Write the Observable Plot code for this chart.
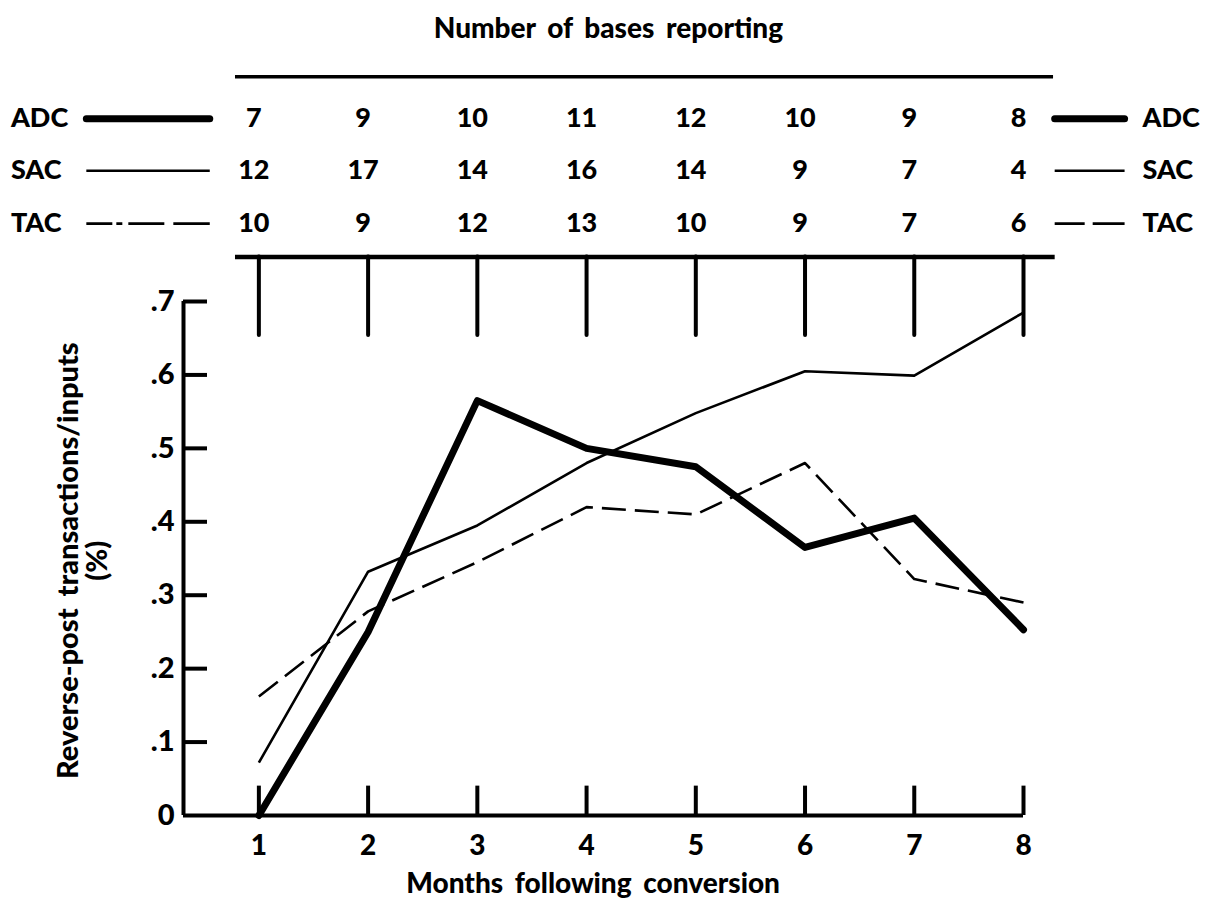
<!DOCTYPE html>
<html>
<head>
<meta charset="utf-8">
<script src="https://cdn.jsdelivr.net/npm/d3@7"></script>
<script src="https://cdn.jsdelivr.net/npm/@observablehq/plot@0.6"></script>
<style>
  html, body { margin: 0; padding: 0; background: #fff; }
  #chart svg { display: block; }
  #chart text { word-spacing: 5px; }
</style>
</head>
<body>
<div id="chart"></div>
<script>
// ---- data ----
const months = [1, 2, 3, 4, 5, 6, 7, 8];
const seriesNames = ["ADC", "SAC", "TAC"];
const adcValues = [0.0, 0.25, 0.565, 0.50, 0.475, 0.365, 0.405, 0.253];
const sacValues = [0.072, 0.332, 0.395, 0.48, 0.548, 0.605, 0.599, 0.685];
const tacValues = [0.162, 0.278, 0.345, 0.42, 0.41, 0.48, 0.322, 0.29];
const basesADC = [7, 9, 10, 11, 12, 10, 9, 8];
const basesSAC = [12, 17, 14, 16, 14, 9, 7, 4];
const basesTAC = [10, 9, 12, 13, 10, 9, 7, 6];
const yTicks = [0, 0.1, 0.2, 0.3, 0.4, 0.5, 0.6, 0.7];
const yTickLabels = ["0", ".1", ".2", ".3", ".4", ".5", ".6", ".7"];
const xTickLabels = ["1", "2", "3", "4", "5", "6", "7", "8"];
const tableTitle = "Number of bases reporting";
const xTitle = "Months following conversion";
const yTitle1 = "Reverse-post transactions/inputs";
const yTitle2 = "(%)";

// ---- derived tables ----
const valuesBySeries = {ADC: adcValues, SAC: sacValues, TAC: tacValues};
const basesBySeries = {ADC: basesADC, SAC: basesSAC, TAC: basesTAC};
const lineData = seriesNames.flatMap(s => months.map((m, i) => ({series: s, month: m, value: valuesBySeries[s][i]})));

// layout (in scale units)
const X0 = 0.31;               // x position of the y axis
const rowY = {ADC: 0.949, SAC: 0.878, TAC: 0.806};
const tableData = seriesNames.flatMap(s => months.map((m, i) => ({series: s, month: m, n: basesBySeries[s][i]})));
const legendLeft = {x1: -0.575, x2: 0.555};
const legendRight = {x1: 8.29, x2: 8.93};
const labelLeftX = -1.27;
const labelRightX = 9.09;

const FONT = "Lato, 'Open Sans', sans-serif";
const W = 900;
const styleOf = {
  ADC: {strokeWidth: 7, dash: null},
  SAC: {strokeWidth: 2.6, dash: null},
  TAC: {strokeWidth: 2.6, dash: "24,9"}
};
const txt = (size) => ({fontSize: size, fontWeight: W, fontFamily: FONT, fill: "#000"});

const marks = [];

// data lines
for (const s of seriesNames) {
  marks.push(Plot.line(lineData.filter(d => d.series === s), {
    x: "month", y: "value", stroke: "#000",
    strokeWidth: styleOf[s].strokeWidth,
    strokeDasharray: styleOf[s].dash || undefined,
    strokeLinejoin: "round", strokeLinecap: s === "ADC" ? "round" : "butt"
  }));
}

// axes lines
marks.push(Plot.ruleY([0], {x1: X0, x2: 8, stroke: "#000", strokeWidth: 4}));
marks.push(Plot.ruleX([X0], {y1: 0, y2: 0.7, stroke: "#000", strokeWidth: 4}));
// inward y ticks
marks.push(Plot.ruleY(yTicks.slice(1), {x1: X0, x2: X0 + 0.22, stroke: "#000", strokeWidth: 4}));
// upward x ticks
marks.push(Plot.ruleX(months, {y1: 0, y2: 0.04, stroke: "#000", strokeWidth: 4}));
// y tick labels
marks.push(Plot.text(yTicks, {x: X0, y: d => d, text: (d, i) => yTickLabels[i], dx: -9, textAnchor: "end", ...txt(29)}));
// x tick labels
marks.push(Plot.text(months, {x: d => d, y: 0, text: (d, i) => xTickLabels[i], dy: 31, ...txt(28)}));
// axis titles
marks.push(Plot.text([xTitle], {x: 4.06, y: 0, dy: 69, text: d => d, ...txt(28)}));
marks.push(Plot.text([yTitle1], {x: -0.74, y: 0.347, text: d => d, rotate: -90, ...txt(29)}));
marks.push(Plot.text([yTitle2], {x: -0.475, y: 0.347, text: d => d, rotate: -90, ...txt(29)}));

// table header / frame
marks.push(Plot.text([tableTitle], {x: 4.20, y: 1.071, text: d => d, ...txt(28)}));
marks.push(Plot.ruleY([1.006], {x1: 0.786, x2: 8.275, stroke: "#000", strokeWidth: 3.5}));
marks.push(Plot.ruleY([0.7605], {x1: 0.786, x2: 8.29, stroke: "#000", strokeWidth: 4.5}));
marks.push(Plot.ruleX(months, {y1: 0.7605, y2: 0.6537, stroke: "#000", strokeWidth: 4, strokeLinecap: "round"}));

// table numbers
marks.push(Plot.text(tableData, {x: "month", y: d => rowY[d.series], text: d => String(d.n), dx: -5, ...txt(27)}));

// legend labels & swatches
for (const s of seriesNames) {
  marks.push(Plot.text([s], {x: labelLeftX, y: rowY[s], text: d => d, textAnchor: "start", ...txt(27)}));
  marks.push(Plot.text([s], {x: labelRightX, y: rowY[s], text: d => d, textAnchor: "start", ...txt(27)}));
  const leftDash = s === "TAC" ? "26,4,6,6,36,9,40" : undefined;
  const rightDash = s === "TAC" ? "30,8,40" : undefined;
  marks.push(Plot.ruleY([rowY[s]], {x1: legendLeft.x1, x2: legendLeft.x2, stroke: "#000",
    strokeWidth: styleOf[s].strokeWidth, strokeDasharray: leftDash, strokeLinecap: s === "ADC" ? "round" : "butt"}));
  marks.push(Plot.ruleY([rowY[s]], {x1: legendRight.x1, x2: legendRight.x2, stroke: "#000",
    strokeWidth: styleOf[s].strokeWidth, strokeDasharray: rightDash, strokeLinecap: s === "ADC" ? "round" : "butt"}));
}

const chart = Plot.plot({
  width: 1210,
  height: 905,
  marginLeft: 183,
  marginRight: 187,
  marginTop: 301,
  marginBottom: 90,
  x: {domain: [X0, 8], axis: null},
  y: {domain: [0, 0.7], axis: null},
  style: {background: "#fff", color: "#000", fontFamily: FONT, overflow: "visible"},
  marks
});
document.getElementById("chart").appendChild(chart);
</script>
</body>
</html>
